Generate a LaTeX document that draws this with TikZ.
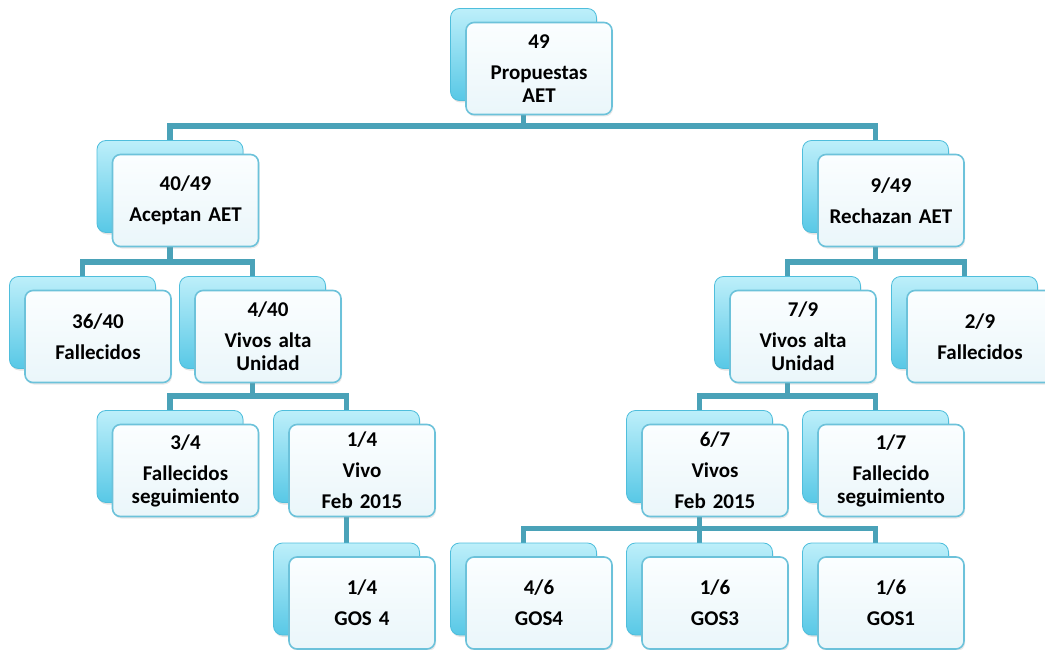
\documentclass[tikz,border=0pt]{standalone}
\usepackage{fontspec}
\setmainfont{Carlito}
\usetikzlibrary{shadows}
\definecolor{conncol}{HTML}{4AA2B8}
\definecolor{backtop}{HTML}{BDEFFA}
\definecolor{backbot}{HTML}{58C8E6}
\definecolor{backline}{HTML}{4FBEDC}
\definecolor{fronttop}{HTML}{FBFEFF}
\definecolor{frontbot}{HTML}{EAF6FA}
\definecolor{frontline}{HTML}{6CC2DA}
\pgfdeclarelayer{bg}
\pgfsetlayers{bg,main}
\tikzset{
  backcard/.style={rectangle, rounded corners=9pt, minimum width=146pt, minimum height=92pt,
    top color=backtop, bottom color=backbot, draw=backline, line width=0.8pt,
    drop shadow={opacity=0.22, shadow xshift=1pt, shadow yshift=-2pt}},
  frontcard/.style={rectangle, rounded corners=8pt, minimum width=146pt, minimum height=92pt,
    top color=fronttop, bottom color=frontbot, draw=frontline, line width=1.6pt,
    drop shadow={opacity=0.18, shadow xshift=1pt, shadow yshift=-2pt},
    align=center, text width=140pt, inner sep=0pt,
    font=\fontsize{21}{23}\selectfont\bfseries},
  conn/.style={draw=conncol, line width=5.5pt, line join=miter}
}
\newcommand\mycard[4]{%
  \node[backcard] (#1) at (#2,#3) {};
  \node[frontcard] (#1f) at (#2+15.5,#3+14) {#4};
}
\newcommand\myedge[2]{%
  \draw[conn] (#1.south) |- ([yshift=14pt]#2.north) -- (#2.north);
}
\begin{document}
\begin{tikzpicture}[x=1pt,y=-1pt]
\useasboundingbox (0,0) rectangle (1045,650);
% level 1
\mycard{top}{523.5}{54.5}{49\\[8pt]Propuestas\\AET}
% level 2
\mycard{acep}{170}{186.5}{40/49\\[8pt]Aceptan AET}
\mycard{rech}{875.5}{186.5}{9/49\\[8pt]Rechazan AET}
% level 3
\mycard{fa}{82.5}{322.5}{36/40\\[8pt]Fallecidos}
\mycard{va}{252.5}{322.5}{4/40\\[8pt]Vivos alta\\Unidad}
\mycard{vr}{787.5}{322.5}{7/9\\[8pt]Vivos alta\\Unidad}
\mycard{fr}{964.5}{322.5}{2/9\\[8pt]Fallecidos}
% level 4
\mycard{fs}{170}{456.5}{3/4\\[8pt]Fallecidos\\seguimiento}
\mycard{vv}{346.5}{456.5}{1/4\\[8pt]Vivo\\[8pt]Feb 2015}
\mycard{vf}{699.5}{456.5}{6/7\\[8pt]Vivos\\[8pt]Feb 2015}
\mycard{fds}{875.5}{456.5}{1/7\\[8pt]Fallecido\\seguimiento}
% level 5
\mycard{ga}{346.5}{589}{1/4\\[8pt]GOS 4}
\mycard{gb}{523.5}{589}{4/6\\[8pt]GOS4}
\mycard{gc}{699.5}{589}{1/6\\[8pt]GOS3}
\mycard{gd}{875.5}{589}{1/6\\[8pt]GOS1}
\begin{pgfonlayer}{bg}
\myedge{top}{acep}
\myedge{top}{rech}
\myedge{acep}{fa}
\myedge{acep}{va}
\myedge{rech}{vr}
\myedge{rech}{fr}
\myedge{va}{fs}
\myedge{va}{vv}
\myedge{vr}{vf}
\myedge{vr}{fds}
\myedge{vv}{ga}
\myedge{vf}{gb}
\myedge{vf}{gc}
\myedge{vf}{gd}
\end{pgfonlayer}
\end{tikzpicture}
\end{document}
